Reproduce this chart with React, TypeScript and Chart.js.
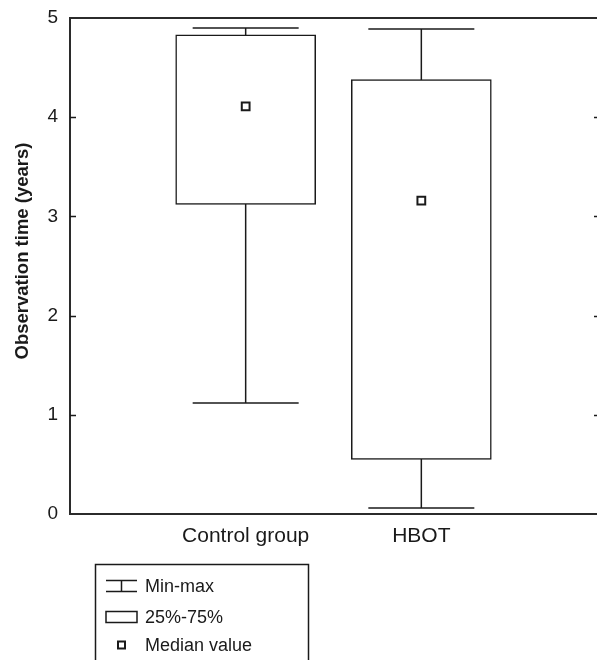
import React, { useEffect, useRef } from 'react';
import { Chart, registerables } from 'chart.js';

Chart.register(...registerables);

// ---- data ----
const categories = ['Control group', 'HBOT'];
const minValues = [1.12, 0.06];
const q1Values = [3.12, 0.55];
const medianValues = [4.11, 3.16];
const q3Values = [4.83, 4.38];
const maxValues = [4.9, 4.89];
const yTickValues = [0, 1, 2, 3, 4, 5];
const yAxisTitle = 'Observation time (years)';
const legendLabels = ['Min-max', '25%-75%', 'Median value'];

const INK = '#1a1a1a';
const FRAME = '#2b2b2b';
const FONT = "'Liberation Sans', Arial, Helvetica, sans-serif";

const xLabels = ['', ...categories, ''];

export default function App() {
  const canvasRef = useRef<HTMLCanvasElement | null>(null);

  useEffect(() => {
    document.body.style.margin = '0';
    const canvas = canvasRef.current;
    if (!canvas) return;

    const decorPlugin = {
      id: 'decor',
      afterDraw(chart: any) {
        const { ctx, chartArea, scales } = chart;
        const y = scales.y;
        ctx.save();
        // top frame line
        ctx.strokeStyle = FRAME;
        ctx.lineWidth = 2;
        ctx.beginPath();
        ctx.moveTo(chartArea.left - 1, chartArea.top);
        ctx.lineTo(chartArea.right + 2, chartArea.top);
        ctx.stroke();
        // inward ticks left and right
        ctx.lineWidth = 1.5;
        ctx.strokeStyle = INK;
        yTickValues.forEach((v) => {
          if (v === yTickValues[0] || v === yTickValues[yTickValues.length - 1]) return;
          const py = Math.round(y.getPixelForValue(v)) + 0.5;
          ctx.beginPath();
          ctx.moveTo(chartArea.left, py);
          ctx.lineTo(chartArea.left + 6, py);
          ctx.moveTo(chartArea.right - 3, py);
          ctx.lineTo(chartArea.right, py);
          ctx.stroke();
        });
        // y axis title
        ctx.save();
        ctx.fillStyle = INK;
        ctx.font = `bold 18.5px ${FONT}`;
        ctx.textAlign = 'center';
        ctx.textBaseline = 'middle';
        ctx.translate(23, (chartArea.top + chartArea.bottom) / 2 - 15);
        ctx.rotate(-Math.PI / 2);
        ctx.fillText(yAxisTitle, 0, 0);
        ctx.restore();

        // legend
        const lx = 95;
        const ly = 564;
        ctx.strokeStyle = INK;
        ctx.lineWidth = 1.5;
        ctx.strokeRect(lx + 0.5, ly + 0.5, 213, 120);
        const iconL = 106;
        const iconR = 137;
        const iconC = (iconL + iconR) / 2;
        const textX = 145;
        const rows = [586, 617, 645];
        // min-max icon
        ctx.beginPath();
        ctx.moveTo(iconL, rows[0] - 5.5);
        ctx.lineTo(iconR, rows[0] - 5.5);
        ctx.moveTo(iconL, rows[0] + 5.5);
        ctx.lineTo(iconR, rows[0] + 5.5);
        ctx.moveTo(iconC, rows[0] - 5.5);
        ctx.lineTo(iconC, rows[0] + 5.5);
        ctx.stroke();
        // box icon
        ctx.strokeRect(iconL, rows[1] - 5.5, iconR - iconL, 11);
        // median icon
        ctx.lineWidth = 2;
        ctx.strokeRect(iconC - 3.5, rows[2] - 3.5, 7, 7);
        ctx.fillStyle = INK;
        ctx.font = `18px ${FONT}`;
        ctx.textAlign = 'left';
        ctx.textBaseline = 'middle';
        legendLabels.forEach((t, i) => ctx.fillText(t, textX, rows[i] + 1));
        ctx.restore();
      },
    };

    const datasets: any[] = [
      {
        type: 'line',
        label: 'Median value',
        data: categories.map((c, i) => ({ x: c, y: medianValues[i] })),
        showLine: false,
        pointStyle: 'rect',
        pointRadius: 5.5,
        pointBorderWidth: 2,
        pointBackgroundColor: '#ffffff',
        pointBorderColor: INK,
        order: 0,
      },
      {
        type: 'bar',
        label: '25%-75%',
        data: xLabels.map((l) => {
          const i = categories.indexOf(l);
          return i >= 0 ? [q1Values[i], q3Values[i]] : null;
        }),
        barThickness: 140,
        backgroundColor: '#ffffff',
        borderColor: INK,
        borderWidth: 1.5,
        borderSkipped: false,
        order: 1,
      },
      ...categories.map((c, i) => ({
        type: 'line',
        label: 'Min-max',
        data: [
          { x: c, y: minValues[i] },
          { x: c, y: maxValues[i] },
        ],
        borderColor: INK,
        borderWidth: 1.5,
        pointStyle: 'line',
        pointRadius: 53,
        pointBorderWidth: 1.5,
        pointBorderColor: INK,
        pointBackgroundColor: INK,
        order: 2,
      })),
    ];

    const chart = new Chart(canvas, {
      type: 'bar',
      data: { labels: xLabels, datasets },
      options: {
        animation: false,
        responsive: false,
        events: [],
        layout: { autoPadding: false, padding: { top: 18, left: 0, right: 0, bottom: 0 } },
        plugins: { legend: { display: false }, tooltip: { enabled: false } },
        scales: {
          x: {
            type: 'category',
            offset: false,
            grid: { display: false, drawTicks: false },
            border: { display: true, width: 2, color: FRAME },
            ticks: {
              color: INK,
              font: { family: FONT, size: 21 },
              padding: 10,
              maxRotation: 0,
              autoSkip: false,
            },
            afterFit: (s: any) => {
              s.height = 146;
              s.paddingLeft = 0;
              s.paddingRight = 0;
            },
          },
          y: {
            type: 'linear',
            min: yTickValues[0],
            max: yTickValues[yTickValues.length - 1],
            grid: { display: false, drawTicks: false },
            border: { display: true, width: 2, color: FRAME },
            ticks: {
              stepSize: 1,
              color: INK,
              font: { family: FONT, size: 19 },
              padding: 12,
            },
            afterFit: (s: any) => {
              s.width = 70;
              s.paddingTop = 0;
              s.paddingBottom = 0;
            },
          },
        },
      },
      plugins: [decorPlugin],
    } as any);

    return () => chart.destroy();
  }, []);

  return (
    <div style={{ width: 597, height: 660, overflow: 'hidden' }}>
      <canvas ref={canvasRef} width={597} height={660} style={{ display: 'block' }} />
    </div>
  );
}
